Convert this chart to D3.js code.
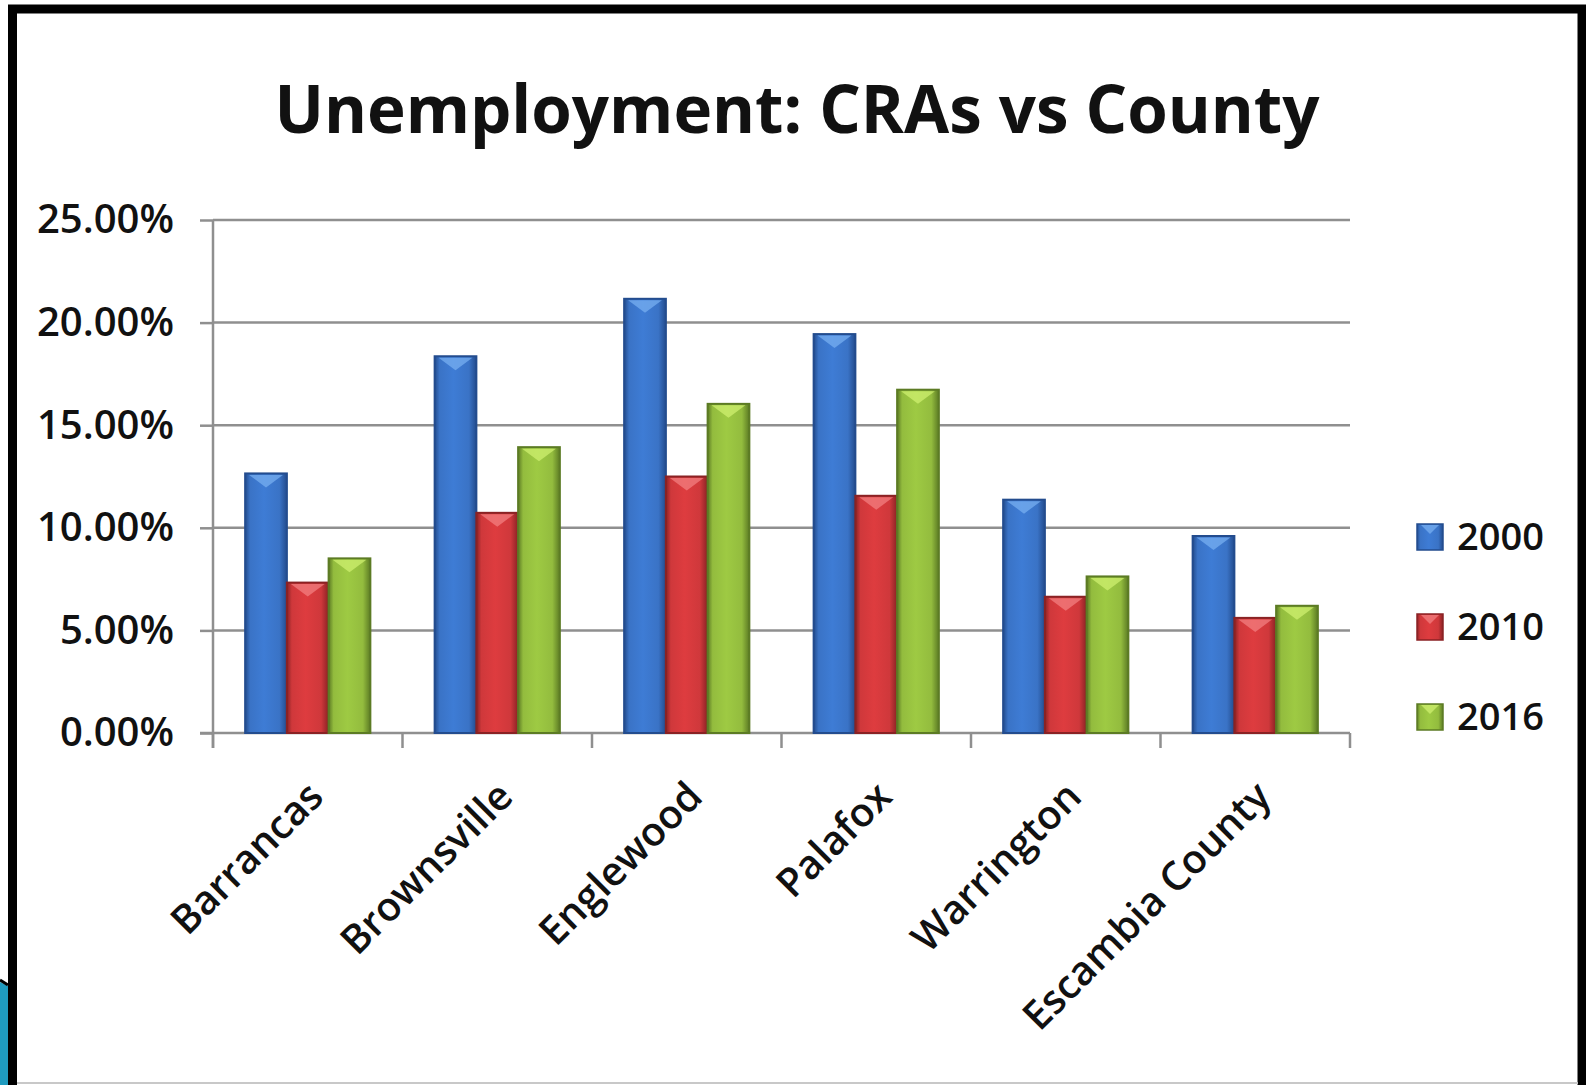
<!DOCTYPE html>
<html>
<head>
<meta charset="utf-8">
<script src="https://cdnjs.cloudflare.com/ajax/libs/d3/7.8.5/d3.min.js"></script>
<style>
  html, body { margin: 0; padding: 0; background: #fff; }
  svg { display: block; }
  text { font-family: "Open Sans", "Noto Sans", sans-serif; fill: #111; }
</style>
</head>
<body>
<svg id="chart" width="1586" height="1085"></svg>
<script>
// data
const categories = ["Barrancas", "Brownsville", "Englewood", "Palafox", "Warrington", "Escambia County"];
const years = ["2000", "2010", "2016"];
const rate2000 = [12.65, 18.36, 21.16, 19.44, 11.37, 9.60];
const rate2010 = [7.33, 10.73, 12.50, 11.56, 6.64, 5.61];
const rate2016 = [8.51, 13.93, 16.04, 16.73, 7.63, 6.20];
const yTicks = [0, 5, 10, 15, 20, 25];

const series = [rate2000, rate2010, rate2016];
const colors = {
    "2000": { base: "#3a73c6", dark: "#234c8e", light: "#7bb2f2" },
    "2010": { base: "#cf383b", dark: "#8a2224", light: "#f38384" },
    "2016": { base: "#93bc3e", dark: "#5c7b24", light: "#d2f272" }
};

const svg = d3.select("#chart");
const defs = svg.append("defs");

// horizontal shading for the bevelled bars
years.forEach(yr => {
    const c = colors[yr];
    const g = defs.append("linearGradient")
        .attr("id", "grad" + yr)
        .attr("x1", "0%").attr("x2", "100%")
        .attr("y1", "0%").attr("y2", "0%");
    g.append("stop").attr("offset", "0%").attr("stop-color", c.dark);
    g.append("stop").attr("offset", "12%").attr("stop-color", c.base);
    g.append("stop").attr("offset", "45%").attr("stop-color", d3.color(c.base).brighter(0.2));
    g.append("stop").attr("offset", "82%").attr("stop-color", c.base);
    g.append("stop").attr("offset", "100%").attr("stop-color", c.dark);
});

// slide frame
svg.append("rect")
    .attr("x", 12.5).attr("y", 9)
    .attr("width", 1569.5).attr("height", 1090)
    .attr("fill", "#fff")
    .attr("stroke", "#000")
    .attr("stroke-width", 9);

// bit of the slide decoration showing at the bottom left
svg.append("path")
    .attr("d", "M0,982 L8,986 L8,1085 L0,1085 Z")
    .attr("fill", "#1f9bbf");
svg.append("path")
    .attr("d", "M0,980 L8,985")
    .attr("stroke", "#000")
    .attr("stroke-width", 3);
svg.append("line")
    .attr("x1", 17).attr("x2", 1578)
    .attr("y1", 1083).attr("y2", 1083)
    .attr("stroke", "#c8c8c8")
    .attr("stroke-width", 2);

const margin = { left: 213, right: 1350, top: 220, bottom: 733 };

const x0 = d3.scaleBand()
    .domain(categories)
    .range([margin.left, margin.right])
    .padding(0);

const x1 = d3.scaleBand()
    .domain(years)
    .range([0, x0.bandwidth()])
    .paddingInner(0)
    .paddingOuter(0.77);

const y = d3.scaleLinear()
    .domain([0, 25])
    .range([margin.bottom, margin.top]);

// title
svg.append("text")
    .attr("x", 797)
    .attr("y", 133)
    .attr("text-anchor", "middle")
    .attr("font-size", 66)
    .attr("font-weight", 700)
    .attr("textLength", 1045)
    .attr("lengthAdjust", "spacingAndGlyphs")
    .text("Unemployment: CRAs vs County");

// gridlines
svg.append("g")
    .selectAll("line")
    .data(yTicks.filter(d => d > 0))
    .join("line")
    .attr("x1", margin.left)
    .attr("x2", margin.right)
    .attr("y1", d => y(d))
    .attr("y2", d => y(d))
    .attr("stroke", "#8f8f8f")
    .attr("stroke-width", 2.5);

// y axis
const yAxis = svg.append("g")
    .attr("transform", `translate(${margin.left},0)`)
    .call(d3.axisLeft(y).tickValues(yTicks).tickSize(13).tickPadding(26)
        .tickFormat(d => d3.format(".2f")(d) + "%"));
yAxis.select(".domain").attr("stroke", "#8f8f8f").attr("stroke-width", 2.5)
    .attr("d", `M0,${margin.top}V${margin.bottom + 15}`);
yAxis.selectAll(".tick line").attr("stroke", "#8f8f8f").attr("stroke-width", 2.5);
yAxis.selectAll(".tick text")
    .attr("font-size", 40)
    .attr("font-weight", 600)
    .attr("font-family", "'Open Sans', sans-serif")
    .attr("fill", "#111");

// x axis with ticks between categories
const xBounds = categories.map(c => x0(c)).concat([margin.right]);
svg.append("line")
    .attr("x1", margin.left - 13).attr("x2", margin.right)
    .attr("y1", margin.bottom).attr("y2", margin.bottom)
    .attr("stroke", "#8f8f8f").attr("stroke-width", 2.5);
svg.append("g")
    .selectAll("line")
    .data(xBounds)
    .join("line")
    .attr("x1", d => d).attr("x2", d => d)
    .attr("y1", margin.bottom).attr("y2", margin.bottom + 15)
    .attr("stroke", "#8f8f8f").attr("stroke-width", 2.5);

// category labels, rotated
svg.append("g")
    .selectAll("text")
    .data(categories)
    .join("text")
    .attr("transform", d => `translate(${x0(d) + x0.bandwidth() / 2 + 8},${margin.bottom + 56}) rotate(-45)`)
    .attr("text-anchor", "end")
    .attr("dy", "0.35em")
    .attr("font-size", 40)
    .attr("font-weight", 600)
    .text(d => d);

// bars
const groups = svg.append("g")
    .selectAll("g")
    .data(categories)
    .join("g")
    .attr("transform", d => `translate(${x0(d)},0)`);

groups.each(function (cat, i) {
    const g = d3.select(this);
    years.forEach((yr, j) => {
        const v = series[j][i];
        const bx = x1(yr), bw = x1.bandwidth();
        const top = y(v), h = y(0) - y(v);
        const c = colors[yr];
        g.append("rect")
            .attr("x", bx).attr("y", top)
            .attr("width", bw).attr("height", h)
            .attr("fill", `url(#grad${yr})`)
            .attr("stroke", c.dark)
            .attr("stroke-width", 2);
        // light bevel chevron at the top
        g.append("path")
            .attr("d", `M${bx + 4},${top + 1.5} L${bx + bw - 4},${top + 1.5} L${bx + bw / 2},${top + 14} Z`)
            .attr("fill", c.light)
            .attr("opacity", 0.7);
    });
});

// legend
const legend = svg.append("g")
    .selectAll("g")
    .data(years)
    .join("g")
    .attr("transform", (d, i) => `translate(1417,${537 + i * 90})`);

legend.append("rect")
    .attr("x", 0).attr("y", -13)
    .attr("width", 26).attr("height", 26)
    .attr("fill", d => `url(#grad${d})`)
    .attr("stroke", d => colors[d].dark)
    .attr("stroke-width", 1.5);
legend.append("path")
    .attr("d", "M4,-12 L22,-12 L13,-3 Z")
    .attr("fill", d => colors[d].light)
    .attr("opacity", 0.7);
legend.append("text")
    .attr("x", 40)
    .attr("y", 0)
    .attr("dy", "0.35em")
    .attr("font-size", 38)
    .attr("font-weight", 600)
    .text(d => d);
</script>
</body>
</html>
